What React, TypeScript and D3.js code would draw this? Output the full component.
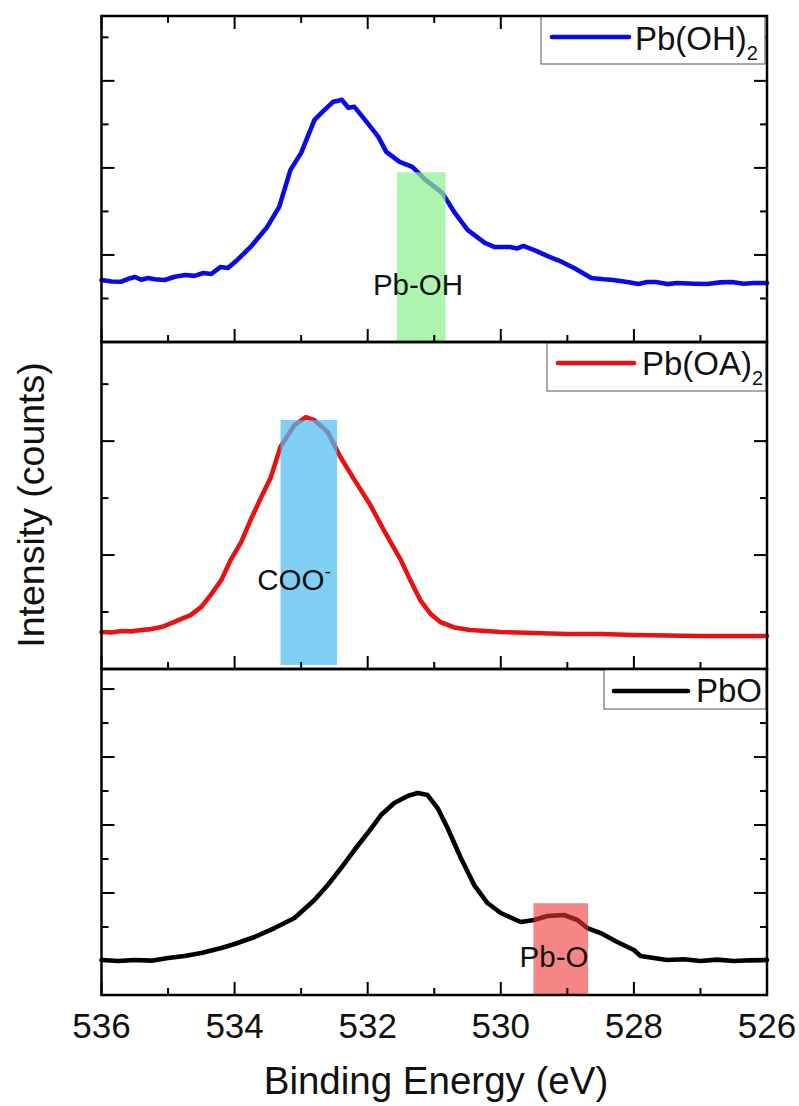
import React from "react";
import * as d3 from "d3";

const W = 799;
const H = 1106;
const PLOT_LEFT = 101.5;
const PLOT_RIGHT = 767;

// Binding energy axis (reversed, as usual for XPS)
const ENERGY_DOMAIN: [number, number] = [536, 526];
const ENERGY_LABELS = [536, 534, 532, 530, 528, 526];

// O 1s spectra: [binding energy (eV), counts]
const pbOHSpectrum: [number, number][] = [
  [536.0, 3425], [535.85, 3390], [535.7, 3386], [535.6, 3450], [535.5, 3494],
  [535.4, 3430], [535.3, 3470], [535.2, 3440], [535.05, 3425], [534.9, 3500],
  [534.74, 3540], [534.6, 3520], [534.47, 3586], [534.35, 3563], [534.21, 3724],
  [534.1, 3701], [533.96, 3885], [533.76, 4184], [533.51, 4644], [533.33, 5104],
  [533.16, 5954], [533.0, 6345], [532.8, 7104], [532.68, 7288], [532.52, 7518],
  [532.45, 7540], [532.39, 7564], [532.29, 7380], [532.2, 7403], [532.04, 7104],
  [531.84, 6713], [531.72, 6368], [531.52, 6138], [531.33, 6023], [531.13, 5724],
  [530.88, 5426], [530.69, 4966], [530.5, 4575], [530.24, 4276], [530.1, 4184],
  [529.86, 4184], [529.75, 4150], [529.66, 4207], [529.47, 4092], [529.27, 3954],
  [529.08, 3839], [528.9, 3701], [528.64, 3471], [528.45, 3440], [528.31, 3425],
  [528.1, 3380], [527.93, 3333], [527.8, 3380], [527.67, 3379], [527.5, 3330],
  [527.35, 3356], [527.1, 3340], [526.9, 3333], [526.7, 3370], [526.53, 3379],
  [526.35, 3340], [526.2, 3356], [526.0, 3356],
];

const pbOASpectrum: [number, number][] = [
  [536.0, 4649], [535.85, 4640], [535.7, 4667], [535.55, 4660], [535.4, 4684],
  [535.25, 4700], [535.1, 4737], [534.95, 4807], [534.8, 4880], [534.66, 4947],
  [534.5, 5090], [534.36, 5298], [534.2, 5560], [534.06, 5912], [533.9, 6230],
  [533.76, 6614], [533.6, 7020], [533.46, 7351], [533.31, 7900], [533.1, 8281],
  [532.93, 8421], [532.8, 8368], [532.6, 8158], [532.41, 7720], [532.2, 7320],
  [531.96, 6877], [531.75, 6420], [531.51, 5930], [531.36, 5560], [531.21, 5211],
  [531.05, 4960], [530.91, 4825], [530.7, 4730], [530.46, 4684], [530.0, 4649],
  [529.5, 4632], [529.0, 4614], [528.5, 4614], [528.0, 4596], [527.0, 4579],
  [526.0, 4579],
];

const pbOSpectrum: [number, number][] = [
  [536.0, 6029], [535.75, 6000], [535.5, 6029], [535.25, 6010], [535.0, 6088],
  [534.75, 6150], [534.5, 6235], [534.2, 6382], [534.0, 6500], [533.7, 6706],
  [533.4, 6970], [533.1, 7265], [532.8, 7794], [532.6, 8235], [532.4, 8735],
  [532.2, 9265], [532.0, 9765], [531.8, 10294], [531.6, 10647], [531.4, 10853],
  [531.25, 10941], [531.1, 10882], [530.95, 10500], [530.8, 9912], [530.6, 9029],
  [530.4, 8235], [530.2, 7706], [530.0, 7412], [529.7, 7147], [529.5, 7206],
  [529.3, 7323], [529.05, 7353], [528.85, 7206], [528.7, 6970], [528.5, 6823],
  [528.25, 6559], [528.0, 6323], [527.9, 6147], [527.5, 6029], [527.25, 6050],
  [527.0, 6000], [526.75, 6040], [526.5, 6000], [526.25, 6020], [526.0, 6029],
];

// Assigned components: shaded energy window and its upper edge (counts)
const pbOHBand = { from: 531.56, to: 530.83, top: 5900, label: "Pb-OH" };
const cooBand = { from: 533.31, to: 532.46, top: 8370, base: 4070, label: "COO" };
const pbOBand = { from: 529.51, to: 528.69, top: 7700, label: "Pb-O" };

type Band = { from: number; to: number; top: number; base?: number; label: string };

type Panel = {
  key: string;
  name: string;
  color: string;
  data: [number, number][];
  yDomain: [number, number];
  top: number;
  bottom: number;
  band: Band;
  bandFill: string;
  bandOpacity: number;
  labelPos: { x: number; y: number };
  legend: { x0: number; y0: number; x1: number; y1: number; lx0: number; lx1: number; ly: number; tx: number; ty: number };
  sub: boolean;
  topTicks: boolean;
};

const panels: Panel[] = [
  {
    key: "oh",
    name: "Pb(OH)",
    color: "#0a0ae6",
    data: pbOHSpectrum,
    yDomain: [2000, 9490],
    top: 16,
    bottom: 342,
    band: pbOHBand,
    bandFill: "#8fee8f",
    bandOpacity: 0.72,
    labelPos: { x: 418, y: 295 },
    legend: { x0: 541, y0: 16, x1: 765, y1: 64, lx0: 552, lx1: 629, ly: 37, tx: 635, ty: 50 },
    sub: true,
    topTicks: true,
  },
  {
    key: "oa",
    name: "Pb(OA)",
    color: "#e81212",
    data: pbOASpectrum,
    yDomain: [4000, 9740],
    top: 342,
    bottom: 669,
    band: cooBand,
    bandFill: "#4fbcf0",
    bandOpacity: 0.72,
    labelPos: { x: 294, y: 590 },
    legend: { x0: 547, y0: 343, x1: 766, y1: 391, lx0: 558, lx1: 634, ly: 363, tx: 642, ty: 375 },
    sub: true,
    topTicks: false,
  },
  {
    key: "o",
    name: "PbO",
    color: "#000000",
    data: pbOSpectrum,
    yDomain: [5000, 14590],
    top: 669,
    bottom: 995,
    band: pbOBand,
    bandFill: "#f03535",
    bandOpacity: 0.6,
    labelPos: { x: 554, y: 967 },
    legend: { x0: 604, y0: 669, x1: 766, y1: 709, lx0: 614, lx1: 688, ly: 691, tx: 696, ty: 702 },
    sub: false,
    topTicks: false,
  },
];

const FONT = "'Liberation Sans', Arial, Helvetica, sans-serif";
const MAJOR = 13;
const MINOR = 7;

function PanelView({ p, x }: { p: Panel; x: d3.ScaleLinear<number, number> }) {
  const y = d3.scaleLinear().domain(p.yDomain).range([p.bottom, p.top]);
  const line = d3
    .line<[number, number]>()
    .x((d) => x(d[0]))
    .y((d) => y(d[1]));

  const xTicks = d3.range(526, 537, 1);
  const yTicks: number[] = [];
  for (let v = Math.ceil(p.yDomain[0] / 1000) * 1000; v < p.yDomain[1]; v += 1000) {
    if (v > p.yDomain[0]) yTicks.push(v);
  }

  const b = p.band;
  const bx0 = x(b.from);
  const bx1 = x(b.to);
  const by0 = y(b.top);
  const by1 = y(b.base ?? p.yDomain[0]);
  const L = p.legend;

  return (
    <g>
      {/* spectrum */}
      <path d={line(p.data) || ""} fill="none" stroke={p.color} strokeWidth={4.6} strokeLinejoin="round" strokeLinecap="round" />
      {/* assigned component shading */}
      <rect x={bx0} y={by0} width={bx1 - bx0} height={by1 - by0} fill={p.bandFill} opacity={p.bandOpacity} />
      <text x={p.labelPos.x} y={p.labelPos.y} fontSize={29.5} textAnchor="middle" fill="#111">
        {b.label}
        {p.key === "oa" && (
          <tspan dy={-12} fontSize={19}>
            -
          </tspan>
        )}
      </text>

      {/* x ticks on the bottom edge (and top for the first panel) */}
      {xTicks.map((t) => {
        const len = t % 2 === 0 ? MAJOR : MINOR;
        return (
          <g key={`x${t}`}>
            <line x1={x(t)} x2={x(t)} y1={p.bottom} y2={p.bottom - len} stroke="#000" strokeWidth={2} />
            {p.topTicks && <line x1={x(t)} x2={x(t)} y1={p.top} y2={p.top + len} stroke="#000" strokeWidth={2} />}
          </g>
        );
      })}
      {/* y ticks on both sides */}
      {yTicks.map((t) => {
        const len = t % 2000 === 0 ? MAJOR : MINOR;
        return (
          <g key={`y${t}`}>
            <line x1={PLOT_LEFT} x2={PLOT_LEFT + len} y1={y(t)} y2={y(t)} stroke="#000" strokeWidth={2} />
            <line x1={PLOT_RIGHT} x2={PLOT_RIGHT - len} y1={y(t)} y2={y(t)} stroke="#000" strokeWidth={2} />
          </g>
        );
      })}

      {/* legend */}
      <rect x={L.x0} y={L.y0} width={L.x1 - L.x0} height={L.y1 - L.y0} fill="#fff" stroke="#555" strokeWidth={1} />
      <line x1={L.lx0} x2={L.lx1} y1={L.ly} y2={L.ly} stroke={p.color} strokeWidth={4.6} strokeLinecap="round" />
      <text x={L.tx} y={L.ty} fontSize={33} fill="#111">
        {p.name}
        {p.sub && (
          <tspan dy={10} fontSize={20}>
            2
          </tspan>
        )}
      </text>

      {/* panel frame */}
      <rect x={PLOT_LEFT} y={p.top} width={PLOT_RIGHT - PLOT_LEFT} height={p.bottom - p.top} fill="none" stroke="#000" strokeWidth={2.5} />
    </g>
  );
}

export default function App() {
  const x = d3.scaleLinear().domain(ENERGY_DOMAIN).range([PLOT_LEFT, PLOT_RIGHT]);
  const lastBottom = panels[panels.length - 1].bottom;
  return (
    <svg
      width={W}
      height={H}
      viewBox={`0 0 ${W} ${H}`}
      style={{ position: "absolute", left: 0, top: 0, background: "#fff" }}
      fontFamily={FONT}
    >
      <rect x={0} y={0} width={W} height={H} fill="#fff" />
      {panels.map((p) => (
        <PanelView key={p.key} p={p} x={x} />
      ))}
      {ENERGY_LABELS.map((e) => (
        <text key={e} x={x(e)} y={lastBottom + 43} fontSize={35} textAnchor="middle" fill="#111">
          {e}
        </text>
      ))}
      <text x={436} y={1094} fontSize={38.5} textAnchor="middle" fill="#111">
        Binding Energy (eV)
      </text>
      <text transform={`translate(44, 505) rotate(-90)`} fontSize={37.5} textAnchor="middle" fill="#111">
        Intensity (counts)
      </text>
    </svg>
  );
}
